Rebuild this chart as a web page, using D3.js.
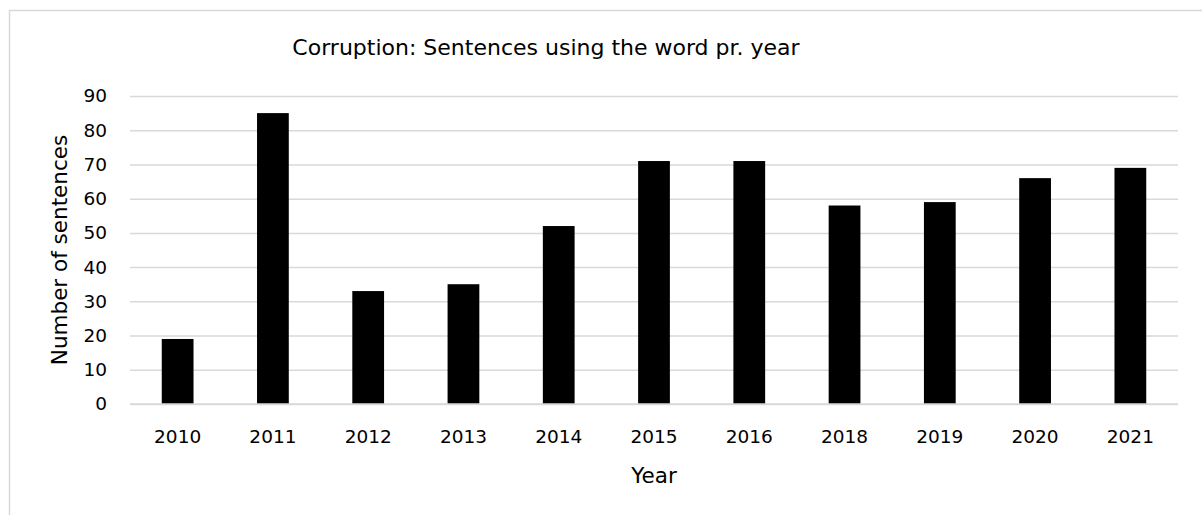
<!DOCTYPE html>
<html>
<head>
<meta charset="utf-8">
<script src="https://cdn.jsdelivr.net/npm/d3@7"></script>
<style>
  html, body { margin: 0; padding: 0; background: #fff; }
  svg { display: block; }
  text { font-family: "DejaVu Sans", Verdana, sans-serif; fill: #000; }
</style>
</head>
<body>
<svg id="chart" width="1202" height="515"></svg>
<script>
const titleText = "Corruption: Sentences using the word pr. year";
const xAxisTitle = "Year";
const yAxisTitle = "Number of sentences";
const years = ["2010", "2011", "2012", "2013", "2014", "2015", "2016", "2018", "2019", "2020", "2021"];
const sentences = [19, 85, 33, 35, 52, 71, 71, 58, 59, 66, 69];
const yTicks = [0, 10, 20, 30, 40, 50, 60, 70, 80, 90];

const svg = d3.select("#chart");
const W = 1202, H = 515;
const plot = { left: 130, right: 1178, top: 96, bottom: 404 };

// chart area border
svg.append("rect")
  .attr("x", 9.5).attr("y", 10.5)
  .attr("width", W + 20).attr("height", H + 20)
  .attr("fill", "#fff")
  .attr("stroke", "#d9d9d9").attr("stroke-width", 1.5);

const x = d3.scaleBand()
  .domain(years)
  .range([plot.left, plot.right])
  .paddingInner(2/3)
  .paddingOuter(1/3);

const y = d3.scaleLinear()
  .domain([0, 90])
  .range([plot.bottom, plot.top]);

// gridlines
const grid = svg.append("g")
  .attr("transform", `translate(${plot.left},0)`)
  .call(d3.axisLeft(y).tickValues(yTicks).tickSize(-(plot.right - plot.left)).tickFormat(""));
grid.select(".domain").remove();
grid.selectAll(".tick line").attr("stroke", "#d9d9d9").attr("stroke-width", 1.5);

// bars
svg.append("g").selectAll("rect")
  .data(years)
  .join("rect")
  .attr("x", d => x(d))
  .attr("width", x.bandwidth())
  .attr("y", (d, i) => y(sentences[i]))
  .attr("height", (d, i) => y(0) - y(sentences[i]))
  .attr("fill", "#000");

// baseline over bars
svg.append("line")
  .attr("x1", plot.left).attr("x2", plot.right)
  .attr("y1", y(0)).attr("y2", y(0))
  .attr("stroke", "#d9d9d9").attr("stroke-width", 1.5);

// y axis labels
const yAxis = svg.append("g")
  .attr("transform", `translate(${plot.left},0)`)
  .call(d3.axisLeft(y).tickValues(yTicks).tickSize(0).tickPadding(23));
yAxis.select(".domain").remove();
yAxis.selectAll("text")
  .style("font-family", '"DejaVu Sans", Verdana, sans-serif')
  .style("font-size", "18.5px")
  .attr("fill", "#000");

// x axis labels
const xAxis = svg.append("g")
  .attr("transform", `translate(0,${plot.bottom})`)
  .call(d3.axisBottom(x).tickSize(0).tickPadding(0));
xAxis.select(".domain").remove();
xAxis.selectAll("text")
  .attr("dy", null)
  .attr("y", 39)
  .style("font-family", '"DejaVu Sans", Verdana, sans-serif')
  .style("font-size", "18.5px")
  .attr("fill", "#000");

// titles
svg.append("text")
  .attr("x", 546).attr("y", 55)
  .attr("text-anchor", "middle")
  .style("font-size", "22px")
  .text(titleText);

svg.append("text")
  .attr("x", (plot.left + plot.right) / 2).attr("y", 483)
  .attr("text-anchor", "middle")
  .style("font-size", "21.5px")
  .text(xAxisTitle);

svg.append("text")
  .attr("transform", `translate(67,${(plot.top + plot.bottom) / 2}) rotate(-90)`)
  .attr("text-anchor", "middle")
  .style("font-size", "21.5px")
  .text(yAxisTitle);
</script>
</body>
</html>
